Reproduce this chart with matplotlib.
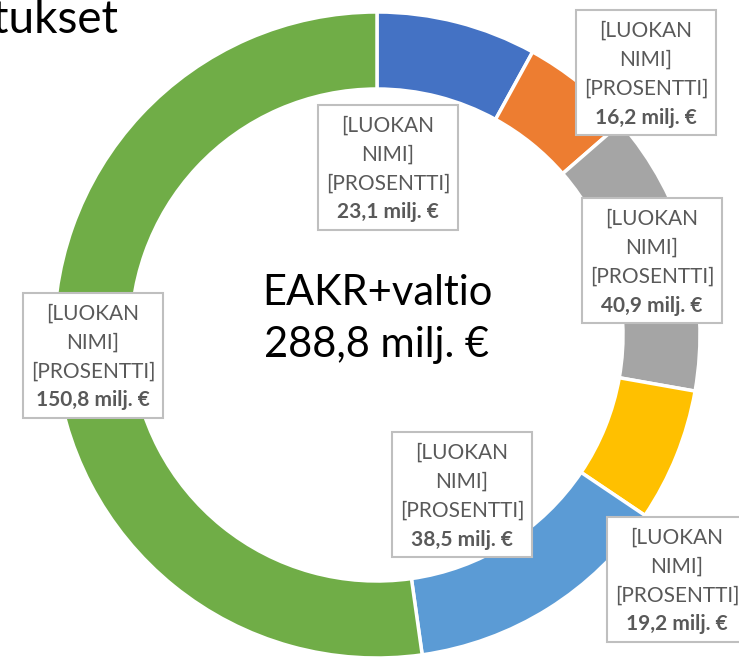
import matplotlib
matplotlib.use("Agg")
import matplotlib.pyplot as plt
from matplotlib.patches import Rectangle

# ---- data ----
values = [23.1, 16.2, 40.9, 19.2, 38.5, 150.8]
value_labels = ["23,1 milj. €", "16,2 milj. €", "40,9 milj. €",
                "19,2 milj. €", "38,5 milj. €", "150,8 milj. €"]
colors = ["#4472C4", "#ED7D31", "#A5A5A5", "#FFC000", "#5B9BD5", "#70AD47"]
label_lines = ["[LUOKAN", "NIMI]", "[PROSENTTI]"]
center_lines = ["EAKR+valtio", "288,8 milj. €"]
title_text = "tukset"

# label box centres in pixel coords (x, y from top)
box_centres = [(388, 167), (646, 72), (652, 260), (677, 579), (462, 494), (93, 355)]

W, H = 739, 658
plt.rcParams['font.family'] = ['Lato', 'DejaVu Sans']

fig = plt.figure(figsize=(W / 100, H / 100), dpi=100)
ax = fig.add_axes([0, 0, 1, 1])

cx, cy = 377, H - 335
R = 323
ax.pie(values, colors=colors, startangle=90, counterclock=False,
       center=(cx, cy), radius=R,
       wedgeprops=dict(width=77, edgecolor="white", linewidth=2.5))
ax.set_xlim(0, W)
ax.set_ylim(0, H)
ax.set_aspect("equal")
ax.axis("off")

bw, bh = 140, 125
label_color = "#595959"
for (bx, by), vl in zip(box_centres, value_labels):
    yc = H - by
    ax.add_patch(Rectangle((bx - bw / 2, yc - bh / 2), bw, bh, facecolor="white",
                           edgecolor="#BFBFBF", linewidth=1.5, zorder=3))
    offs = [35.5, 6.5, -22.5]
    for line, o in zip(label_lines, offs):
        ax.text(bx, yc + o, line, ha="center", va="baseline", fontsize=15,
                color=label_color, zorder=4)
    ax.text(bx, yc - 51.5, vl, ha="center", va="baseline", fontsize=15,
            fontweight="bold", color=label_color, zorder=4)

ax.text(377, H - 305, center_lines[0], ha="center", va="baseline", fontsize=30, color="black")
ax.text(377, H - 357, center_lines[1], ha="center", va="baseline", fontsize=30, color="black")

ax.text(118, H - 33, title_text, ha="right", va="baseline", fontsize=33, color="black")

fig.savefig("out.png", dpi=100)
